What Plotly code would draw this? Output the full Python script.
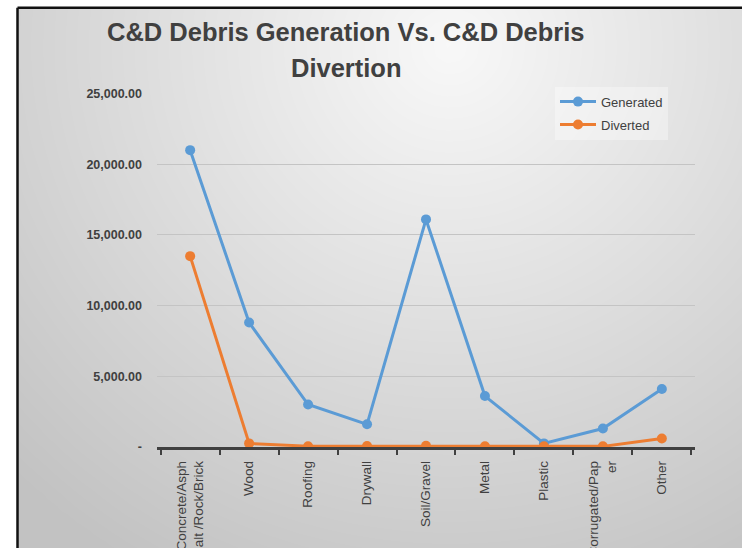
import numpy as np
import plotly.graph_objects as go

W, H = 742, 562

categories = [
    "Concrete/Asph<br>alt /Rock/Brick",
    "Wood",
    "Roofing",
    "Drywall",
    "Soil/Gravel",
    "Metal",
    "Plastic",
    "Corrugated/Pap<br>er",
    "Other",
]
generated = [21000, 8800, 3000, 1600, 16100, 3600, 250, 1300, 4100]
diverted = [13500, 250, 50, 60, 80, 50, 40, 40, 600]

y_ticks = [0, 5000, 10000, 15000, 20000, 25000]
y_ticktext = ["-", "5,000.00", "10,000.00", "15,000.00", "20,000.00", "25,000.00"]

title_lines = ["C&D Debris Generation Vs. C&D Debris", "Divertion"]

FONT = "Liberation Sans, Arial, sans-serif"
TXT = "#404040"
BLUE = "#5B9BD5"
ORANGE = "#ED7D31"


def px_x(p):
    return p / W


def px_y(p):
    # target pixel row in the final picture -> paper fraction
    # (the page photo comes out slightly squeezed and shifted down)
    y = (p - 6.2) / 0.977
    return 1 - y / H


# soft radial background, like the office chart style
bx = np.linspace(18, W, 60)
by = np.linspace(0, H, 46)
gx, gy = np.meshgrid(bx, by)
dist = np.sqrt((gx - 450) ** 2 + (gy - 40) ** 2)
shade = np.clip(1 - dist / 620, 0, 1)

fig = go.Figure()

fig.add_trace(
    go.Heatmap(
        x=bx, y=by, z=shade,
        colorscale=[[0, "#c2c2c2"], [1, "#f8f8f8"]],
        zmin=0, zmax=1, zsmooth="best",
        showscale=False, hoverinfo="skip",
        xaxis="x", yaxis="y",
    )
)

for name, vals, color in [("Generated", generated, BLUE), ("Diverted", diverted, ORANGE)]:
    fig.add_trace(
        go.Scatter(
            x=categories, y=vals, name=name, legendgroup=name,
            mode="lines+markers",
            line={"color": color, "width": 3},
            marker={"color": color, "size": 10},
            xaxis="x2", yaxis="y2",
        )
    )

# two-line title, lines placed separately to get the wider line gap
for line, ypos in zip(title_lines, [31, 67]):
    fig.add_annotation(
        text=f"<b>{line}</b>",
        x=px_x(346), y=px_y(ypos), xref="paper", yref="paper",
        xanchor="center", yanchor="middle", showarrow=False,
        font={"family": FONT, "size": 25.5, "color": TXT},
    )

# chart frame (top and left edges visible)
fig.add_shape(type="line", xref="paper", yref="paper",
              x0=px_x(17.5), x1=1, y0=px_y(7), y1=px_y(7),
              line={"color": "#111111", "width": 2.5})
fig.add_shape(type="line", xref="paper", yref="paper",
              x0=px_x(17.5), x1=px_x(17.5), y0=0, y1=px_y(7),
              line={"color": "#111111", "width": 2.5})

fig.update_layout(
    width=W, height=H,
    margin={"l": 0, "r": 0, "t": 0, "b": 0},
    paper_bgcolor="white",
    plot_bgcolor="rgba(0,0,0,0)",
    font={"family": FONT, "color": TXT},
    xaxis={"domain": [px_x(18), 1], "range": [18, W], "visible": False, "fixedrange": True},
    yaxis={"domain": [0, px_y(7)], "range": [H, 0], "visible": False, "fixedrange": True},
    xaxis2={
        "domain": [px_x(157), px_x(695)],
        "anchor": "y2",
        "type": "category",
        "tickson": "boundaries",
        "ticks": "outside", "ticklen": 5, "tickwidth": 2, "tickcolor": TXT,
        "showline": True, "linecolor": TXT, "linewidth": 2.5,
        "showgrid": False,
        "tickangle": -90,
        "ticklabelstandoff": 6,
        "tickfont": {"family": FONT, "size": 13.5, "color": TXT},
    },
    yaxis2={
        "domain": [px_y(447), px_y(93)],
        "anchor": "x2",
        "range": [0, 25000],
        "tickvals": y_ticks, "ticktext": y_ticktext,
        "showgrid": True, "gridcolor": "#c4c4c4", "gridwidth": 1,
        "zeroline": False, "showline": False,
        "ticklabelstandoff": 14,
        "tickfont": {"family": FONT, "size": 12.5, "color": TXT, "weight": "bold"},
    },
    legend={
        "x": px_x(555), "y": px_y(86), "xanchor": "left", "yanchor": "top",
        "bgcolor": "rgba(255,255,255,0.35)",
        "font": {"family": FONT, "size": 13, "color": TXT},
        "itemwidth": 36,
        "tracegroupgap": 3,
    },
    showlegend=True,
)

page_fix = (
    "document.documentElement.style.margin='0';"
    "document.documentElement.style.overflow='hidden';"
    "document.body.style.margin='0';"
    "document.body.style.overflow='hidden';"
)
fig.write_html("out.html", config={"displayModeBar": False}, post_script=page_fix)
